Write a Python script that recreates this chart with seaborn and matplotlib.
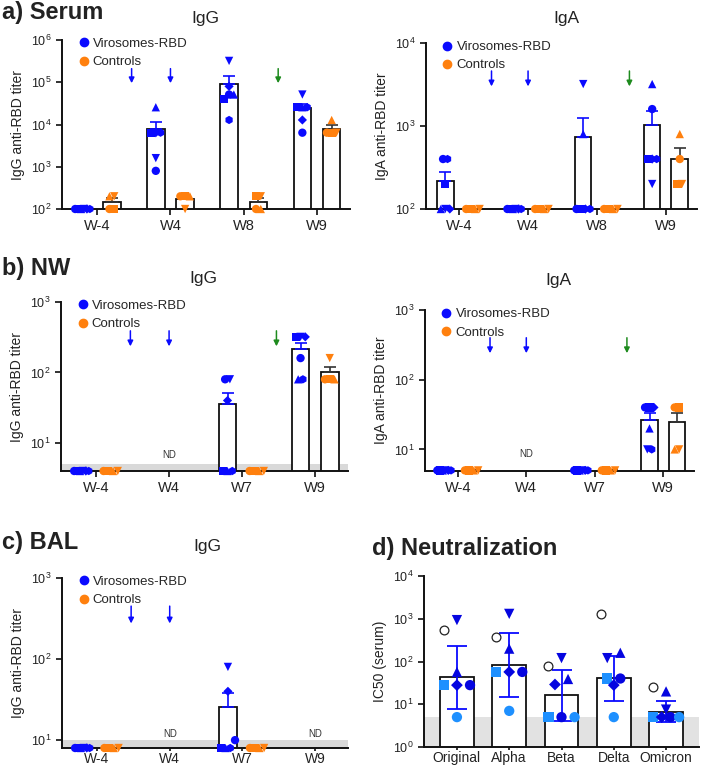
import numpy as np
import pandas as pd
import matplotlib
matplotlib.use("Agg")
import matplotlib.pyplot as plt
import seaborn as sns
from matplotlib.ticker import LogLocator, LogFormatterMathtext, NullLocator
from matplotlib.lines import Line2D

sns.set_theme(style="ticks")
plt.rcParams['font.family'] = ['Liberation Sans', 'DejaVu Sans']
plt.rcParams['mathtext.fontset'] = 'custom'
plt.rcParams['mathtext.rm'] = 'Liberation Sans'
plt.rcParams['mathtext.it'] = 'Liberation Sans:italic'
plt.rcParams['mathtext.bf'] = 'Liberation Sans:bold'

# ---------------- data ----------------
groups = ["Virosomes-RBD", "Controls"]
vir_animals = ["V1", "V2", "V3", "V4", "V5", "V6"]
ctl_animals = ["C1", "C2", "C3", "C4"]

weeks_serum = ["W-4", "W4", "W8", "W9"]
serum_igg_vir = [[100, 100, 100, 100, 100, 100],
                 [800, 6400, 25600, 1600, 6400, 6400],
                 [51200, 40000, 51200, 320000, 80000, 12800],
                 [6400, 25600, 25600, 51200, 12800, 25600]]
serum_igg_ctl = [[100, 100, 200, 200],
                 [200, 200, 200, 100],
                 [100, 200, 100, 200],
                 [6400, 6400, 12800, 6400]]
serum_iga_vir = [[400, 200, 100, 100, 100, 400],
                 [100, 100, 100, 100, 100, 100],
                 [100, 100, 800, 3200, 100, 100],
                 [1600, 400, 3200, 200, 400, 400]]
serum_iga_ctl = [[100, 100, 100, 100],
                 [100, 100, 100, 100],
                 [100, 100, 100, 100],
                 [400, 200, 800, 200]]

weeks_mucosal = ["W-4", "W4", "W7", "W9"]
nw_igg_vir = [[4, 4, 4, 4, 4, 4], None, [80, 4, 4, 80, 40, 4], [160, 320, 80, 320, 320, 80]]
nw_igg_ctl = [[4, 4, 4, 4], None, [4, 4, 4, 4], [80, 80, 80, 160]]
nw_iga_vir = [[5, 5, 5, 5, 5, 5], None, [5, 5, 5, 5, 5, 5], [40, 40, 20, 10, 40, 10]]
nw_iga_ctl = [[5, 5, 5, 5], None, [5, 5, 5, 5], [40, 40, 10, 10]]
bal_igg_vir = [[8, 8, 8, 8, 8, 8], None, [10, 8, 8, 80, 40, 8], None]
bal_igg_ctl = [[8, 8, 8, 8], None, [8, 8, 8, 8], None]

variants = ["Original", "Alpha", "Beta", "Delta", "Omicron"]
neut_animals = ["N1", "N2", "N3", "N4", "N5", "N6"]
neut_values = [[930, 57, 28, 28, 28, 5],
               [1300, 200, 57, 57, 57, 7],
               [120, 39, 5, 29, 5, 5],
               [120, 160, 40, 28, 40, 5],
               [7.5, 20, 5, 5, 5, 5]]
neut_reference = [560, 365, 79, 1260, 25]
neut_lod = 5

boost_positions = [0.47, 1.0, 2.47]
boost_colors = ["#0A0AFF", "#0A0AFF", "#1E8B1E"]

# ---------------- style ----------------
BLUE = "#0A0AFF"
ORANGE = "#FF800E"
DARKBLUE = "#0505E0"
LIGHTBLUE = "#1E90FF"
BAND = "#D9D9D9"
group_colors = {groups[0]: BLUE, groups[1]: ORANGE}
marker_map = {"V1": "o", "V2": "s", "V3": "^", "V4": "v", "V5": "D", "V6": "h",
              "C1": "o", "C2": "s", "C3": "^", "C4": "v"}
size_map = {a: (22 if m == "D" else 36) for a, m in marker_map.items()}
neut_markers = {"N1": "v", "N2": "^", "N3": "s", "N4": "D", "N5": "o", "N6": "o"}
neut_sizes = {a: (36 if m == "D" else 55) for a, m in neut_markers.items()}
neut_colors = {"N1": DARKBLUE, "N2": DARKBLUE, "N3": LIGHTBLUE, "N4": DARKBLUE,
               "N5": DARKBLUE, "N6": LIGHTBLUE}
DODGE = 0.2


def swarm_offsets(values, spacing, maxspan, thresh):
    v = np.log10(np.asarray(values, float))
    order = np.argsort(v, kind="stable")
    offs = np.zeros(len(v))
    clusters, cur = [], [order[0]]
    for i in order[1:]:
        if v[i] - v[cur[-1]] < thresh:
            cur.append(i)
        else:
            clusters.append(cur)
            cur = [i]
    clusters.append(cur)
    for c in clusters:
        k = len(c)
        if k > 1:
            sp = min(spacing, maxspan / (k - 1))
            for j, idx in enumerate(c):
                offs[idx] = (j - (k - 1) / 2) * sp
    return offs


W, H = 708, 767
fig = plt.figure(figsize=(W / 100, H / 100), dpi=100)


def add_ax(l, t, r, b):
    return fig.add_axes([l / W, 1 - b / H, (r - l) / W, (b - t) / H])


def style_axis(ax, ylim, ylabel, xticklabels, bottom_row=False):
    ax.set_yscale("log")
    ax.set_ylim(*ylim)
    ax.yaxis.set_major_locator(LogLocator(base=10, numticks=10))
    ax.yaxis.set_major_formatter(LogFormatterMathtext())
    ax.yaxis.set_minor_locator(NullLocator())
    ax.set_xticks(range(len(xticklabels)))
    ax.set_xticklabels(xticklabels, fontsize=10 if bottom_row else 10.5, color="#222222")
    ax.tick_params(axis="y", labelsize=9, length=4, width=1.3, colors="#222222")
    if bottom_row:
        ax.tick_params(axis="x", length=2.5, width=1.3, pad=0.5, colors="#222222")
    else:
        ax.tick_params(axis="x", length=4, width=1.3, colors="#222222")
    ax.set_ylabel(ylabel, fontsize=10, color="#222222", labelpad=4)
    ax.set_xlabel("")
    for s in ["top", "right"]:
        ax.spines[s].set_visible(False)
    for s in ["left", "bottom"]:
        ax.spines[s].set_linewidth(1.4)
        ax.spines[s].set_color("#111111")


def titer_panel(ax, weeks, vir, ctl, ylim, ylabel, band_top=None, nd=(), arrows=3,
                arrow_y=(None, None), bottom_row=False):
    pts, bars = [], []
    for grp, vals, animals, off in [(groups[0], vir, vir_animals, -DODGE),
                                    (groups[1], ctl, ctl_animals, DODGE)]:
        for wi, wk in enumerate(weeks):
            v = vals[wi]
            if v is None:
                continue
            v = np.asarray(v, float)
            so = swarm_offsets(v, 0.065, 0.2, 0.12)
            for a, val, o in zip(animals, v, so):
                pts.append(dict(x=wi + off + o, value=val, group=grp, animal=a))
            bars.append(dict(week=wk, group=grp, mean=v.mean(),
                             sem=v.std(ddof=1) / np.sqrt(len(v)), x=wi + off))
    pts = pd.DataFrame(pts)
    bars = pd.DataFrame(bars)
    sns.barplot(data=bars, x="week", y="mean", hue="group", order=weeks, hue_order=groups,
                palette={g: "white" for g in groups}, saturation=1, edgecolor="#111111",
                linewidth=1.3, width=0.8, gap=0.4, dodge=True, errorbar=None,
                legend=False, ax=ax, zorder=2)
    style_axis(ax, ylim, ylabel, weeks, bottom_row)
    if band_top is not None:
        ax.axhspan(ylim[0], band_top, color=BAND, lw=0, zorder=0)
    for _, r in bars.iterrows():
        if r["sem"] > 0:
            c = BLUE if r["group"] == groups[0] else "#333333"
            ax.errorbar([r["x"]], [r["mean"]], yerr=[[0], [r["sem"]]], fmt="none",
                        ecolor=c, elinewidth=1.2, capsize=4, capthick=1.2, zorder=2.5)
    sns.scatterplot(data=pts, x="x", y="value", hue="group", hue_order=groups,
                    palette=group_colors, style="animal", markers=marker_map,
                    size="animal", sizes=size_map,
                    linewidth=0, legend=False, ax=ax, zorder=3, clip_on=False)
    ax.set_xlabel("")
    ax.set_ylabel(ylabel, fontsize=10, color="#222222", labelpad=4)
    ax.set_xlim(-0.48, len(weeks) - 0.55)
    for wk, y in nd:
        ax.text(weeks.index(wk), y, "ND", ha="center", va="center", fontsize=7,
                color="#333333")
    for xp, col in list(zip(boost_positions, boost_colors))[:arrows]:
        ax.annotate("", xy=(xp, arrow_y[1]), xytext=(xp, arrow_y[0]),
                    arrowprops=dict(arrowstyle="-|>", color=col, lw=1.1,
                                    mutation_scale=8, shrinkA=0, shrinkB=0))
    handles = [Line2D([], [], marker="o", ls="", color=group_colors[g], markersize=6)
               for g in groups]
    ax.legend(handles, groups, loc="upper left", bbox_to_anchor=(0.02, 1.06),
              frameon=False, fontsize=9.5, handletextpad=0.1, labelspacing=0.45,
              borderaxespad=0.2, handlelength=1.2)


ax_a1 = add_ax(62, 40, 350, 209)
ax_a2 = add_ax(426, 43, 697, 209)
ax_b1 = add_ax(61, 302, 348, 471)
ax_b2 = add_ax(425, 310, 694, 471)
ax_c = add_ax(62, 578, 348, 748)
ax_d = add_ax(424, 576, 699, 747)

titer_panel(ax_a1, weeks_serum, serum_igg_vir, serum_igg_ctl, (100, 1e6),
            "IgG anti-RBD titer", arrow_y=(2.1e5, 9.5e4))
titer_panel(ax_a2, weeks_serum, serum_iga_vir, serum_iga_ctl, (100, 1e4),
            "IgA anti-RBD titer", arrow_y=(4.6e3, 3.0e3))
titer_panel(ax_b1, weeks_mucosal, nw_igg_vir, nw_igg_ctl, (4, 1000),
            "IgG anti-RBD titer", band_top=5, nd=[("W4", 6.8)], arrow_y=(390, 235))
titer_panel(ax_b2, weeks_mucosal, nw_iga_vir, nw_iga_ctl, (4.9, 1000),
            "IgA anti-RBD titer", nd=[("W4", 8.5)], arrow_y=(400, 240))
titer_panel(ax_c, weeks_mucosal, bal_igg_vir, bal_igg_ctl, (8, 1000),
            "IgG anti-RBD titer", band_top=10, nd=[("W4", 12), ("W9", 12)], arrows=2,
            arrow_y=(450, 275), bottom_row=True)

# ---------------- neutralization ----------------
npts, nbars = [], []
for vi, var in enumerate(variants):
    v = np.asarray(neut_values[vi], float)
    so = swarm_offsets(v, 0.25, 0.5, 0.15)
    for a, val, o in zip(neut_animals, v, so):
        npts.append(dict(x=vi + o, value=val, animal=a))
    lg = np.log10(v)
    gm = 10 ** lg.mean()
    gsd = 10 ** lg.std(ddof=1)
    nbars.append(dict(variant=var, gmean=gm, lo=gm / gsd, hi=gm * gsd, x=vi))
npts = pd.DataFrame(npts)
nbars = pd.DataFrame(nbars)
nref = pd.DataFrame(dict(x=np.arange(len(variants)) - 0.25, value=neut_reference))

sns.barplot(data=nbars, x="variant", y="gmean", order=variants, color="white",
            saturation=1, edgecolor="#111111", linewidth=1.3, width=0.64,
            errorbar=None, ax=ax_d, zorder=2)
style_axis(ax_d, (1, 1e4), "IC50 (serum)", variants, bottom_row=True)
ax_d.axhspan(1, neut_lod, color="#E2E2E2", lw=0, zorder=0)
for _, r in nbars.iterrows():
    ax_d.errorbar([r["x"]], [r["gmean"]],
                  yerr=[[r["gmean"] - r["lo"]], [r["hi"] - r["gmean"]]], fmt="none",
                  ecolor=BLUE, elinewidth=1.3, capsize=7, capthick=1.3, zorder=2.5)
sns.scatterplot(data=npts, x="x", y="value", hue="animal", palette=neut_colors,
                style="animal", markers=neut_markers, size="animal", sizes=neut_sizes,
                linewidth=0, legend=False, ax=ax_d, zorder=3, clip_on=False)
sns.scatterplot(data=nref, x="x", y="value", marker="o", s=40, facecolor="white",
                edgecolor="#222222", linewidth=0.9, legend=False, ax=ax_d, zorder=3)
ax_d.set_xlabel("")
ax_d.set_ylabel("IC50 (serum)", fontsize=10, color="#222222", labelpad=4)
ax_d.set_xlim(-0.63, len(variants) - 0.37)

# ---------------- titles ----------------
def ftext(x, y, s, size, bold=False):
    fig.text(x / W, 1 - y / H, s, fontsize=size, fontweight="bold" if bold else "normal",
             ha="left" if bold else "center", va="center", color="#222222")

ftext(2, 13, "a) Serum", 17, True)
ftext(205, 18, "IgG", 12.5)
ftext(566, 18, "IgA", 12.5)
ftext(2, 268, "b) NW", 17, True)
ftext(203, 278, "IgG", 12.5)
ftext(558, 280, "IgA", 12.5)
ftext(2, 542, "c) BAL", 17, True)
ftext(207, 547, "IgG", 12.5)
ftext(372, 549, "d) Neutralization", 17, True)

fig.savefig("out.png", dpi=100)
